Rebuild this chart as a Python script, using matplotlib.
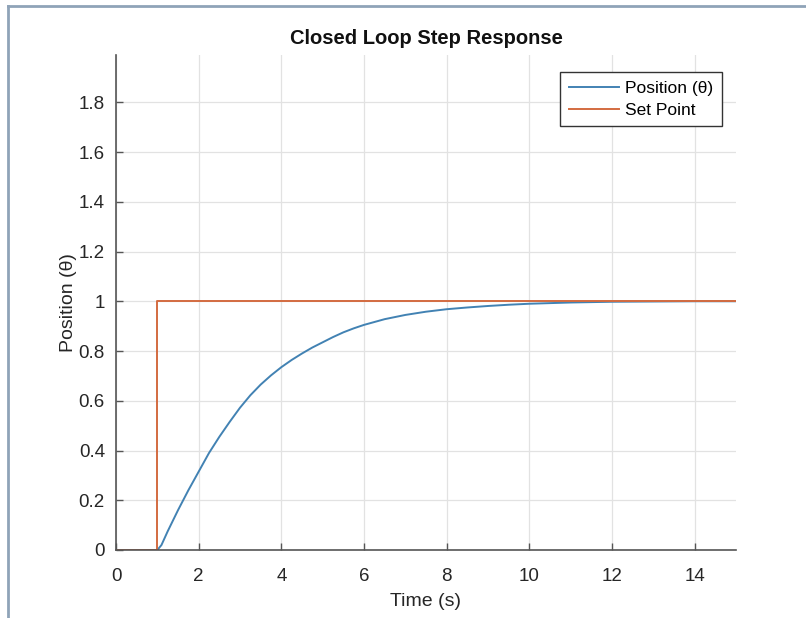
import matplotlib
matplotlib.use("Agg")
import matplotlib.pyplot as plt
from matplotlib.lines import Line2D

# Closed-loop position response (read at sample times, seconds)
time_s = [0, 1.0, 1.1, 1.25, 1.5, 1.75, 2.0, 2.25, 2.5, 2.75, 3.0, 3.25, 3.5,
          3.75, 4.0, 4.25, 4.5, 4.75, 5.0, 5.25, 5.5, 5.75, 6.0, 6.5, 7.0,
          7.5, 8.0, 8.5, 9.0, 9.5, 10.0, 11.0, 12.0, 13.0, 14.0, 15.0]
position = [0, 0, 0.02, 0.075, 0.16, 0.24, 0.315, 0.39, 0.455, 0.515, 0.572,
            0.622, 0.665, 0.702, 0.735, 0.764, 0.79, 0.814, 0.835, 0.856,
            0.875, 0.891, 0.905, 0.928, 0.945, 0.958, 0.968, 0.975, 0.981,
            0.986, 0.99, 0.995, 0.998, 0.999, 1.0, 1.0]

# Step set point
setpoint_t = [0, 1, 1, 15]
setpoint_v = [0, 0, 1, 1]

x_ticks = [0, 2, 4, 6, 8, 10, 12, 14]
y_ticks = [0, 0.2, 0.4, 0.6, 0.8, 1.0, 1.2, 1.4, 1.6, 1.8]
y_tick_labels = ["0", "0.2", "0.4", "0.6", "0.8", "1", "1.2", "1.4", "1.6", "1.8"]

plt.rcParams["font.family"] = ["Liberation Sans", "DejaVu Sans"]

W, H = 806, 618
fig = plt.figure(figsize=(W / 100, H / 100), dpi=100)
fig.patch.set_facecolor("white")

# window frame lines (top and left)
frame_col = "#8fa3b8"
fig.add_artist(Line2D([8 / W, 1.0], [1 - 6 / H, 1 - 6 / H], color=frame_col,
                      lw=2.0, transform=fig.transFigure))
fig.add_artist(Line2D([8 / W, 8 / W], [0.0, 1 - 6 / H], color=frame_col,
                      lw=2.0, transform=fig.transFigure))

ax = fig.add_axes([116 / W, 1 - 550 / H, (736 - 116) / W, (550 - 55) / H])

blue = "#4282b3"
orange = "#d36b40"
ax.plot(time_s, position, color=blue, lw=1.4, label="Position (θ)")
ax.plot(setpoint_t, setpoint_v, color=orange, lw=1.4, label="Set Point")

ax.set_xlim(0, 15)
ax.set_ylim(0, 1.99)
ax.set_xticks(x_ticks)
ax.set_xticklabels([str(v) for v in x_ticks])
ax.set_yticks(y_ticks)
ax.set_yticklabels(y_tick_labels)

ax.grid(True, color="#e2e2e2", lw=0.9)
ax.set_axisbelow(True)
for side in ("top", "right"):
    ax.spines[side].set_visible(False)
for side in ("left", "bottom"):
    ax.spines[side].set_color("#555555")
    ax.spines[side].set_linewidth(1.2)

ax.tick_params(direction="in", length=5, width=1.0, colors="#555555",
               labelcolor="#262626", labelsize=13.5)
ax.tick_params(axis="x", pad=13)
ax.tick_params(axis="y", pad=8)

ax.set_xlabel("Time (s)", fontsize=14, color="#262626", labelpad=6)
ax.set_ylabel("Position (θ)", fontsize=14, color="#262626", labelpad=1)
ax.set_title("Closed Loop Step Response", fontsize=14.5, fontweight="bold",
             color="#111111", pad=8)

leg = ax.legend(loc="upper right", bbox_to_anchor=(0.977, 0.966), fontsize=12.5,
                frameon=True, fancybox=False, framealpha=1, edgecolor="#333333",
                borderpad=0.5, handlelength=2.9, handletextpad=0.35,
                labelspacing=0.4, borderaxespad=0)
leg.get_frame().set_linewidth(1.0)

fig.savefig("out.png", dpi=100)
